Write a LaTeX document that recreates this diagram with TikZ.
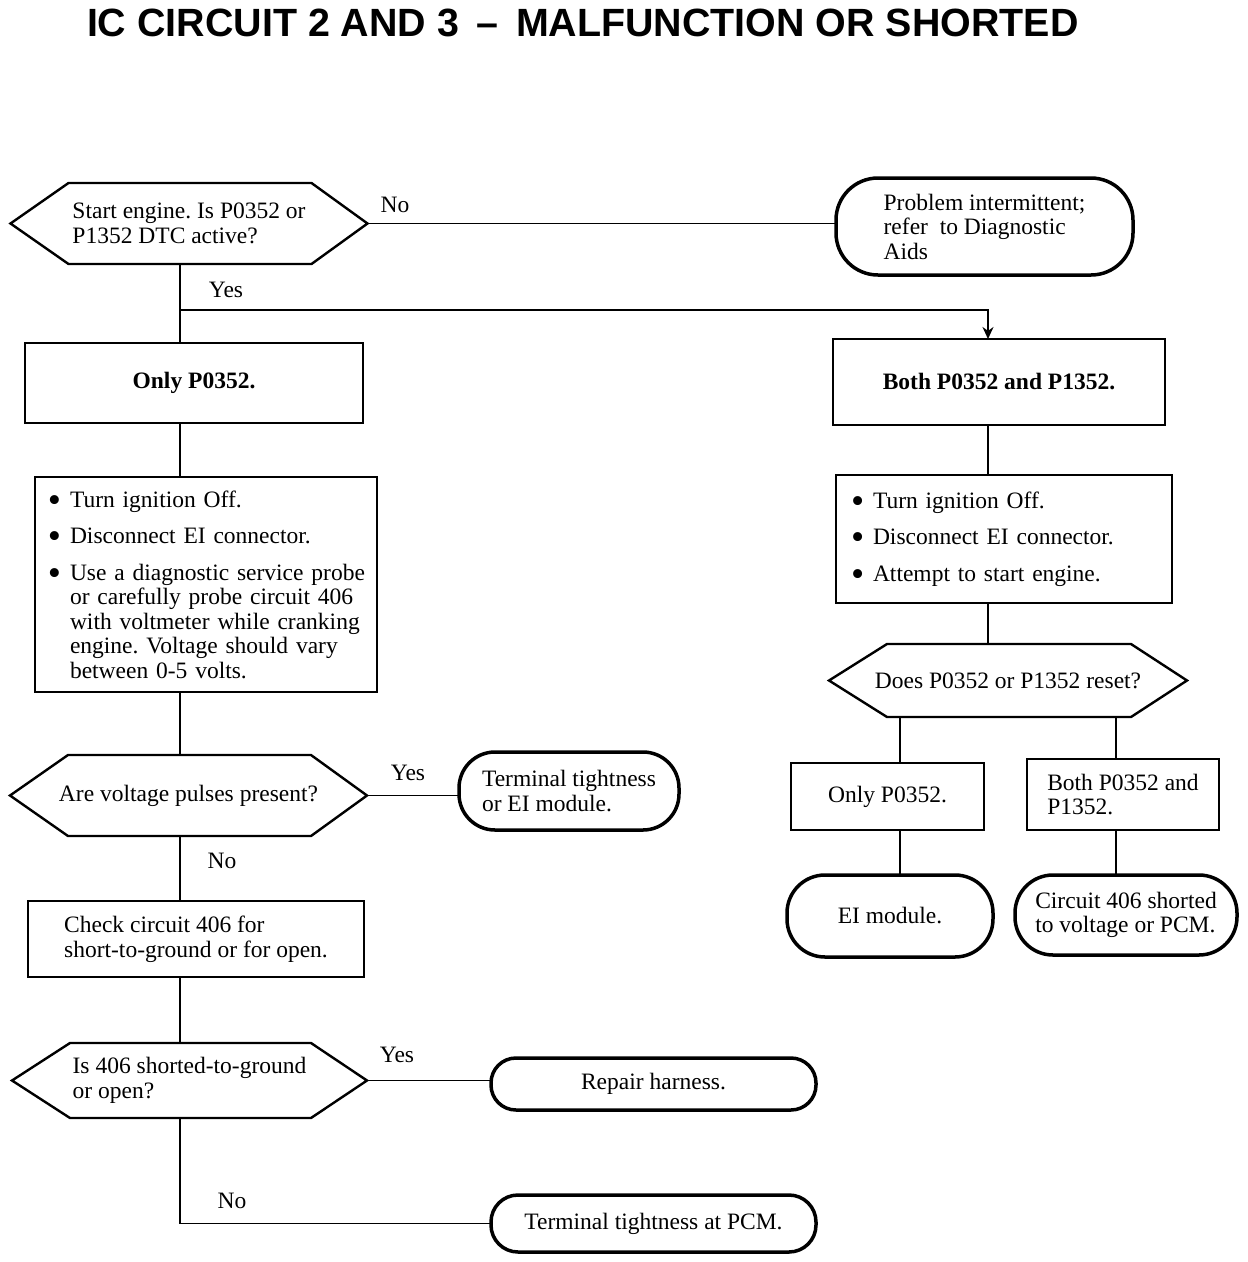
\documentclass[tikz,border=0pt]{standalone}
\usepackage{fontspec}
\setmainfont{Liberation Serif}
\newfontfamily\titlefont{Liberation Sans}
\usetikzlibrary{arrows.meta}
\newcommand{\bl}{\makebox[23pt][l]{\hspace{1pt}\raisebox{-5pt}{\scalebox{1.6}{\textbullet}}}}
\newcommand{\ind}{\hspace*{23pt}}
\begin{document}
\frenchspacing
\begin{tikzpicture}[x=1pt,y=-1pt,
  every node/.style={inner sep=0pt,outer sep=0pt},
  txt/.style={font=\fontsize{23.5}{24.5}\selectfont},
  box/.style={txt,draw,line width=1.8pt,align=left},
  hexa/.style={txt,align=left},
  hexline/.style={line width=2.4pt,line join=miter},
  term/.style={txt,draw,line width=3.5pt,align=left,rounded corners=#1},
  conn/.style={line width=1.6pt},
  lbl/.style={txt}
]
\useasboundingbox[fill=white] (0,0) rectangle (1248,1262);

% title
\node[anchor=base west,font=\titlefont\bfseries\fontsize{39.4}{44}\selectfont] (title) at (87,36) {IC CIRCUIT 2 AND 3 \,–\, MALFUNCTION OR SHORTED};

% spine coordinates
\coordinate (sp) at (180,0);
\coordinate (rsp) at (988,0);
\coordinate (c1) at (900,0);
\coordinate (c2) at (1116,0);

% decisions
\node[hexa,minimum width=357,minimum height=81] (d1) at (189,223.5) {Start engine. Is P0352 or\\P1352 DTC active?};
\node[hexa,minimum width=357,minimum height=81] (d2) at (188.5,795.5) {Are voltage pulses present?};
\node[hexa,minimum width=355,minimum height=75] (d3) at (189.5,1080.5) {Is 406 shorted-to-ground\\or open?};
\node[hexa,minimum width=358,minimum height=73] (d4) at (1008,680.5) {Does P0352 or P1352 reset?};
\foreach \n in {d1,d2,d3,d4}{
  \draw[hexline] (\n.west) -- ([xshift=58pt]\n.north west) -- ([xshift=-56pt]\n.north east)
    -- (\n.east) -- ([xshift=-56pt]\n.south east) -- ([xshift=58pt]\n.south west) -- cycle;
}

% boxes
\node[box,minimum width=338,minimum height=80,font=\fontsize{23.5}{24.5}\selectfont\bfseries] (b1) at (194,383) {Only P0352.};
\node[box,minimum width=332,minimum height=86,font=\fontsize{23.5}{24.5}\selectfont\bfseries] (b2) at (999,382) {Both P0352 and P1352.};
\node[box,minimum width=342,minimum height=215,text width=318] (b3) at (206,584.5) {%
\bl Turn ignition Off.\\[12pt]
\bl Disconnect EI connector.\\[12pt]
\bl Use a diagnostic service probe\\
\ind or carefully probe circuit 406\\
\ind with voltmeter while cranking\\
\ind engine. Voltage should vary\\
\ind between 0-5 volts.};
\node[box,minimum width=336,minimum height=76] (b4) at (196,939) {Check circuit 406 for\\short-to-ground or for open.};
\node[box,minimum width=336,minimum height=128,text width=308] (b5) at (1004,539) {%
\bl Turn ignition Off.\\[12pt]
\bl Disconnect EI connector.\\[12pt]
\bl Attempt to start engine.};
\node[box,minimum width=193,minimum height=67] (b6) at (887.5,796.5) {Only P0352.};
\node[box,minimum width=192,minimum height=71] (b7) at (1123,794.5) {Both P0352 and\\P1352.};

% terminators
\node[term=42,minimum width=297,minimum height=97] (t1) at (984.5,226.5) {Problem intermittent;\\refer\ \ to Diagnostic\\Aids};
\node[term=36,minimum width=220,minimum height=78] (t2) at (569,791) {Terminal tightness\\or EI module.};
\node[term=25,minimum width=325,minimum height=52] (t3) at (653.5,1084) {Repair harness.};
\node[term=27,minimum width=325,minimum height=57] (t4) at (653.5,1223.5) {Terminal tightness at PCM.};
\node[term=38,minimum width=206,minimum height=82] (t5) at (890,916) {EI module.};
\node[term=38,minimum width=222,minimum height=80] (t6) at (1126,915) {Circuit 406 shorted\\to voltage or PCM.};

% connectors
\coordinate (br) at (180,310);
\draw[conn] (d1.east) -- (d1.east -| t1.west);
\draw[conn] (d1.south -| sp) -- (b1.north -| sp);
\draw[conn,-{Stealth[length=12pt,width=11pt]}] (br) -| (b2.north -| rsp);
\draw[conn] (b1.south -| sp) -- (b3.north -| sp);
\draw[conn] (b3.south -| sp) -- (d2.north -| sp);
\draw[conn] (d2.east) -- (d2.east -| t2.west);
\draw[conn] (d2.south -| sp) -- (b4.north -| sp);
\draw[conn] (b4.south -| sp) -- (d3.north -| sp);
\draw[conn] (d3.east) -- (d3.east -| t3.west);
\draw[conn] (d3.south -| sp) |- (t4.west);
\draw[conn] (b2.south -| rsp) -- (b5.north -| rsp);
\draw[conn] (b5.south -| rsp) -- (d4.north -| rsp);
\draw[conn] (d4.south -| c1) -- (b6.north -| c1);
\draw[conn] (d4.south -| c2) -- (b7.north -| c2);
\draw[conn] (b6.south -| c1) -- (t5.north -| c1);
\draw[conn] (b7.south -| c2) -- (t6.north -| c2);

% labels
\node[lbl] (l1) at (395,205) {No};
\node[lbl] (l2) at (226,290) {Yes};
\node[lbl] (l3) at (408,773) {Yes};
\node[lbl] (l4) at (222,861) {No};
\node[lbl] (l5) at (397,1055) {Yes};
\node[lbl] (l6) at (232,1201) {No};
\end{tikzpicture}
\end{document}
